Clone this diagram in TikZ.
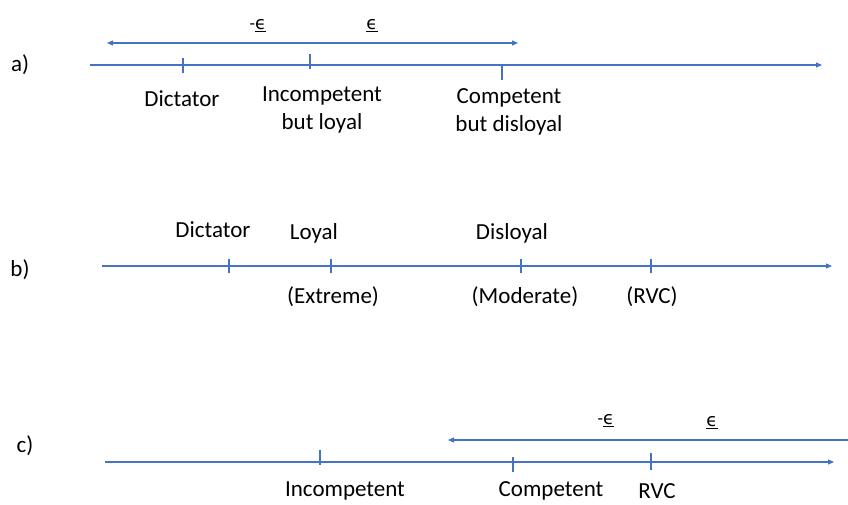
\documentclass[tikz,border=0pt]{standalone}
\usepackage{fontspec}
\setmainfont{Carlito}
\newfontfamily\dejavu{DejaVu Sans}
\usetikzlibrary{arrows.meta}
\definecolor{axblue}{HTML}{4472C4}
\newcommand{\ueps}{\underline{{\dejavu ϵ}}}
\begin{document}
\begin{tikzpicture}[x=1pt,y=-1pt,
  axis/.style={draw=axblue,line width=1.1pt,-{Triangle[length=6pt,width=5pt]}},
  twoway/.style={draw=axblue,line width=1.1pt,{Triangle[length=6pt,width=5pt]}-{Triangle[length=6pt,width=5pt]}},
  leftway/.style={draw=axblue,line width=1.1pt,{Triangle[length=6pt,width=5pt]}-},
  tick/.style={draw=axblue,line width=1.1pt},
  lbl/.style={font=\fontsize{23}{28}\selectfont,inner sep=0pt,align=center},
  eps/.style={font=\fontsize{18}{22}\selectfont,inner sep=0pt}]
\useasboundingbox (0,0) rectangle (848,504);
% ---------- a)
\node[lbl] (la) at (20,65) {a)};
\coordinate (a0) at (90,65);
\coordinate (a1) at (822,65);
\draw[axis] (a0) -- (a1);
\coordinate (at1t) at (183,58); \coordinate (at1b) at (183,73);
\coordinate (at2t) at (310,54); \coordinate (at2b) at (310,69);
\coordinate (at3t) at (502,65); \coordinate (at3b) at (502,80);
\draw[tick] (at1t) -- (at1b);
\draw[tick] (at2t) -- (at2b);
\draw[tick] (at3t) -- (at3b);
\coordinate (ua0) at (107,43);
\coordinate (ua1) at (518,43);
\draw[twoway] (ua0) -- (ua1);
\node[eps] (ea1) at (258,26) {-\ueps};
\node[eps] (ea2) at (372,26) {\ueps};
\node[lbl] (dict) at (182,99) {Dictator};
\node[lbl] (incl) at (322,110) {Incompetent\\but loyal};
\node[lbl] (comd) at (509,112) {Competent\\but disloyal};
% ---------- b)
\node[lbl] (lb) at (20,270) {b)};
\coordinate (b0) at (102,266);
\coordinate (b1) at (832,266);
\draw[axis] (b0) -- (b1);
\foreach \n/\x in {1/229,2/331,3/521,4/651}{
  \coordinate (bt\n t) at (\x,259); \coordinate (bt\n b) at (\x,273);
  \draw[tick] (bt\n t) -- (bt\n b);}
\node[lbl] (bdict) at (213,230) {Dictator};
\node[lbl] (bloy) at (314,233) {Loyal};
\node[lbl] (bdis) at (512,233) {Disloyal};
\node[lbl] (bext) at (333,297) {(Extreme)};
\node[lbl] (bmod) at (525,297) {(Moderate)};
\node[lbl] (brvc) at (652,297) {(RVC)};
% ---------- c)
\node[lbl] (lc) at (25,446) {c)};
\coordinate (c0) at (105,462);
\coordinate (c1) at (834,462);
\draw[axis] (c0) -- (c1);
\coordinate (ct1t) at (320,450); \coordinate (ct1b) at (320,465);
\coordinate (ct2t) at (513,457); \coordinate (ct2b) at (513,472);
\coordinate (ct3t) at (651,453); \coordinate (ct3b) at (651,470);
\draw[tick] (ct1t) -- (ct1b);
\draw[tick] (ct2t) -- (ct2b);
\draw[tick] (ct3t) -- (ct3b);
\coordinate (uc0) at (448,440);
\coordinate (uc1) at (848,440);
\draw[leftway] (uc0) -- (uc1);
\node[eps] (ec1) at (606,421) {-\ueps};
\node[eps] (ec2) at (712,423) {\ueps};
\node[lbl] (cinc) at (345,491) {Incompetent};
\node[lbl] (ccom) at (551,491) {Competent};
\node[lbl] (crvc) at (657,491) {RVC};
\end{tikzpicture}
\end{document}
